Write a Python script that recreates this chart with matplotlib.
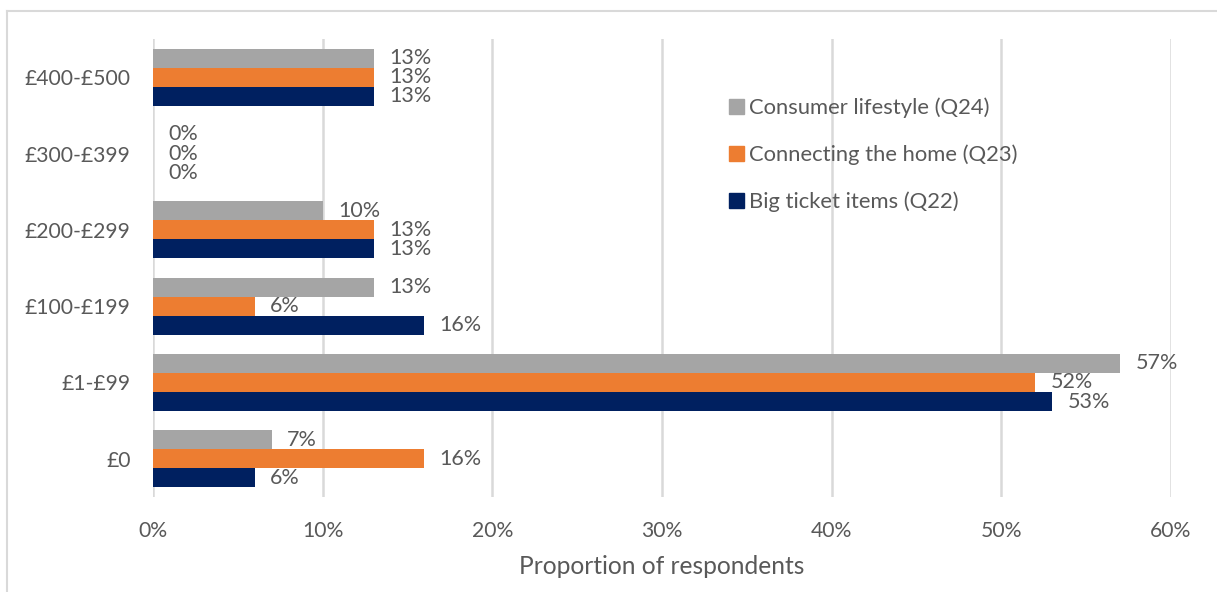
import matplotlib.pyplot as plt
import numpy as np
from matplotlib.lines import Line2D
from matplotlib.patches import Patch

# spend bands, bottom to top
bands = ["£0", "£1-£99", "£100-£199", "£200-£299", "£300-£399", "£400-£500"]
big_ticket = [6, 53, 16, 13, 0, 13]        # Q22
connecting_home = [16, 52, 6, 13, 0, 13]   # Q23
consumer_lifestyle = [7, 57, 13, 10, 0, 13]  # Q24
x_ticks = [0, 10, 20, 30, 40, 50, 60]

NAVY = "#002060"
ORANGE = "#ed7d31"
GREY = "#a5a5a5"
TEXT = "#595959"
GRID = "#d9d9d9"

plt.rcParams["font.family"] = ["Lato", "DejaVu Sans"]

fig = plt.figure(figsize=(12.17, 5.92), dpi=100)
ax = fig.add_axes([153 / 1217, 95 / 592, 1018 / 1217, 458 / 592])

y = np.arange(len(bands))
h = 0.25
series = [
    (big_ticket, -h, NAVY, "Big ticket items (Q22)"),
    (connecting_home, 0, ORANGE, "Connecting the home (Q23)"),
    (consumer_lifestyle, h, GREY, "Consumer lifestyle (Q24)"),
]
for vals, off, col, name in series:
    ax.barh(y + off, vals, height=h, color=col, zorder=3)
    for yi, v in zip(y, vals):
        ax.text(v + 0.9, yi + off, f"{v}%", va="center", ha="left",
                fontsize=15.5, color=TEXT, zorder=4)

ax.set_xlim(0, 60)
ax.set_ylim(-0.5, len(bands) - 0.5)
ax.set_xticks(x_ticks)
ax.set_xticklabels([f"{t}%" for t in x_ticks])
ax.set_yticks(y)
ax.set_yticklabels(bands)
ax.tick_params(axis="both", length=0, labelsize=15.2, labelcolor=TEXT)
ax.tick_params(axis="x", pad=17)
ax.tick_params(axis="y", pad=16)
ax.grid(axis="x", color=GRID, linewidth=1.8, zorder=0)
for s in ax.spines.values():
    s.set_visible(False)

ax.set_xlabel("Proportion of respondents", fontsize=17.7, color=TEXT, labelpad=10)

handles = [Patch(color=GREY), Patch(color=ORANGE), Patch(color=NAVY)]
labels = [series[2][3], series[1][3], series[0][3]]
ax.legend(handles, labels, loc="upper left", bbox_to_anchor=(0.546, 0.915),
          frameon=False, fontsize=15.8, labelcolor=TEXT, handlelength=0.7,
          handleheight=0.7, handletextpad=0.25, labelspacing=1.2)

# chart frame
top = 1 - 11 / 592
left = 7 / 1217
fig.add_artist(Line2D([left, 1], [top, top], color=GRID, linewidth=1.5))
fig.add_artist(Line2D([left, left], [0, top], color=GRID, linewidth=1.5))

fig.savefig("out.png", dpi=100)
